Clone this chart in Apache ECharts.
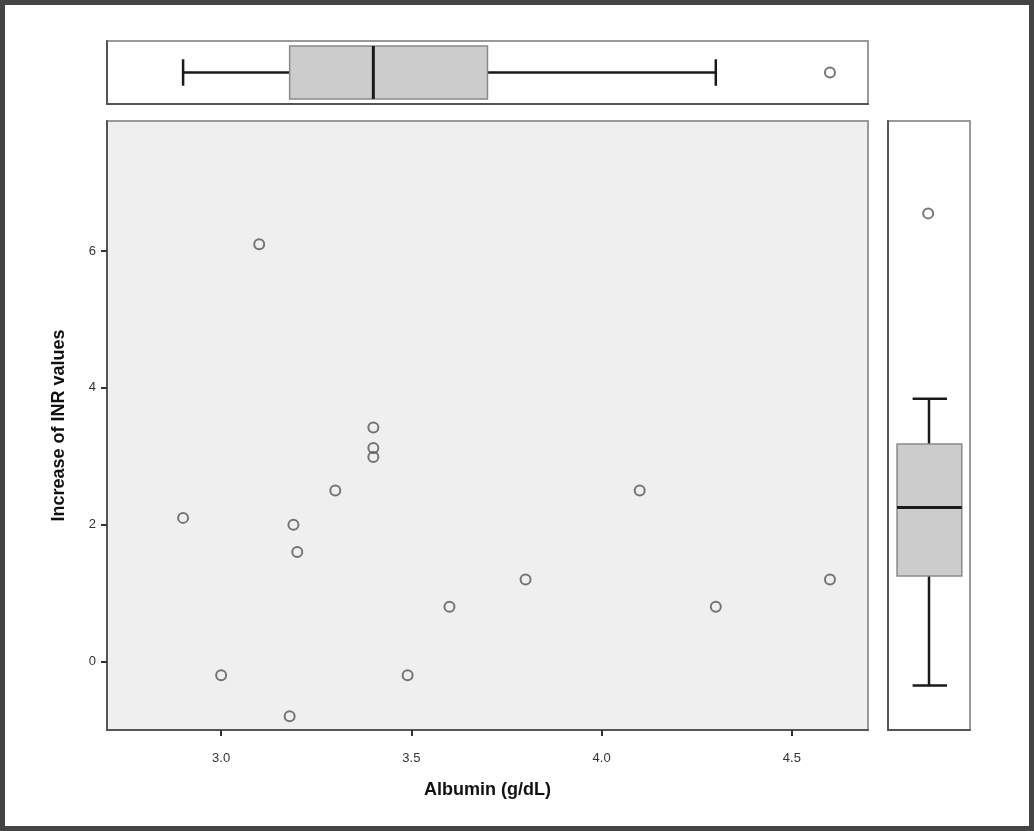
<!DOCTYPE html>
<html>
<head>
<meta charset="utf-8">
<script src="https://cdn.jsdelivr.net/npm/echarts@6/dist/echarts.min.js"></script>
<style>
  html, body { margin: 0; padding: 0; background: #444; }
  #chart { position: absolute; left: 5px; top: 5px; width: 1024px; height: 821px; background: #fff; }
</style>
</head>
<body>
<div id="chart"></div>
<script>
// scatter points: albumin vs increase of INR
const albumin = [2.9, 3.0, 3.1, 3.18, 3.19, 3.2, 3.3, 3.4, 3.4, 3.4, 3.49, 3.6, 3.8, 4.1, 4.3, 4.6]
const inrIncrease = [2.1, -0.2, 6.1, -0.8, 2.0, 1.6, 2.5, 3.42, 3.12, 2.99, -0.2, 0.8, 1.2, 2.5, 0.8, 1.2]

// marginal boxplots: [low whisker, q1, median, q3, high whisker]
const albuminBox = [2.9, 3.18, 3.4, 3.7, 4.3]
const albuminOutliers = [4.6]
const inrBox = [-0.35, 1.25, 2.25, 3.18, 3.84]
const inrOutliers = [6.55]

const xTicks = [3.0, 3.5, 4.0, 4.5]
const yTicks = [0, 2, 4, 6]

const X_MIN = 2.7, X_MAX = 4.7
const Y_MIN = -1, Y_MAX = 7.9

const chart = echarts.init(document.getElementById('chart'))

const font = '"Liberation Sans", Arial, sans-serif'

const circleStyle = {
  color: 'rgba(0,0,0,0)',
  borderColor: '#555',
  borderWidth: 2
}

// only the frame line of the marginal panels, no ticks or labels
const edgeOnly = {
  axisLine: { show: true, onZero: false, lineStyle: { color: '#555', width: 2 } },
  axisTick: { show: false },
  axisLabel: { show: false },
  splitLine: { show: false }
}

// box drawn across [0,1] on the position axis
const makeBoxRender = (horizontal) => (params, api) => {
  const v = [0, 1, 2, 3, 4].map(i => api.value(i))
  const pt = (val, pos) => horizontal ? api.coord([val, pos]) : api.coord([pos, val])
  const lo = horizontal ? 0.08 : 0.11
  const hi = horizontal ? 0.92 : 0.90
  const c0 = horizontal ? 0.29 : 0.30
  const c1 = horizontal ? 0.71 : 0.72
  const a = pt(v[1], lo)
  const b = pt(v[3], hi)
  const line = (p, q, w) => ({
    type: 'line',
    shape: { x1: p[0], y1: p[1], x2: q[0], y2: q[1] },
    style: { stroke: '#1a1a1a', lineWidth: w }
  })
  return {
    type: 'group',
    children: [
      line(pt(v[0], 0.5), pt(v[1], 0.5), 2.5),
      line(pt(v[3], 0.5), pt(v[4], 0.5), 2.5),
      line(pt(v[0], c0), pt(v[0], c1), 2.5),
      line(pt(v[4], c0), pt(v[4], c1), 2.5),
      {
        type: 'rect',
        shape: {
          x: Math.min(a[0], b[0]),
          y: Math.min(a[1], b[1]),
          width: Math.abs(b[0] - a[0]),
          height: Math.abs(b[1] - a[1])
        },
        style: { fill: '#cccccc', stroke: '#8a8a8a', lineWidth: 1.5 }
      },
      line(pt(v[2], lo), pt(v[2], hi), 3)
    ]
  }
}

const option = {
  animation: false,
  backgroundColor: '#fff',
  grid: [
    { left: 102, top: 116, width: 761, height: 609, show: true, backgroundColor: '#efefef', borderColor: '#9a9a9a', borderWidth: 2 },
    { left: 102, top: 36, width: 761, height: 63, show: true, backgroundColor: '#fff', borderColor: '#9a9a9a', borderWidth: 2 },
    { left: 883, top: 116, width: 82, height: 609, show: true, backgroundColor: '#fff', borderColor: '#9a9a9a', borderWidth: 2 }
  ],
  xAxis: [
    {
      gridIndex: 0,
      type: 'value',
      min: X_MIN,
      max: X_MAX,
      name: 'Albumin (g/dL)',
      nameLocation: 'middle',
      nameGap: 51,
      nameTextStyle: { fontFamily: font, fontWeight: 'bold', fontSize: 18, color: '#111' },
      axisLine: { show: true, onZero: false, lineStyle: { color: '#555', width: 2 } },
      axisTick: { show: true, customValues: xTicks, length: 6, lineStyle: { color: '#333', width: 2 } },
      axisLabel: {
        customValues: xTicks,
        formatter: (v) => v.toFixed(1),
        margin: 22,
        fontFamily: font,
        fontSize: 13,
        color: '#333'
      },
      splitLine: { show: false }
    },
    { gridIndex: 1, type: 'value', min: X_MIN, max: X_MAX, ...edgeOnly },
    { gridIndex: 2, type: 'value', min: 0, max: 1, ...edgeOnly }
  ],
  yAxis: [
    {
      gridIndex: 0,
      type: 'value',
      min: Y_MIN,
      max: Y_MAX,
      name: 'Increase of INR values',
      nameLocation: 'middle',
      nameGap: 39,
      nameTextStyle: { fontFamily: font, fontWeight: 'bold', fontSize: 18, color: '#111' },
      axisLine: { show: true, onZero: false, lineStyle: { color: '#555', width: 2 } },
      axisTick: { show: true, customValues: yTicks, length: 6, lineStyle: { color: '#333', width: 2 } },
      axisLabel: {
        customValues: yTicks,
        margin: 11,
        fontFamily: font,
        fontSize: 13,
        color: '#333'
      },
      splitLine: { show: false }
    },
    { gridIndex: 1, type: 'value', min: 0, max: 1, ...edgeOnly },
    { gridIndex: 2, type: 'value', min: Y_MIN, max: Y_MAX, ...edgeOnly }
  ],
  series: [
    {
      type: 'scatter',
      xAxisIndex: 0,
      yAxisIndex: 0,
      symbol: 'circle',
      symbolSize: 10,
      itemStyle: circleStyle,
      data: albumin.map((a, i) => [a, inrIncrease[i]])
    },
    {
      type: 'custom',
      xAxisIndex: 1,
      yAxisIndex: 1,
      renderItem: makeBoxRender(true),
      data: [albuminBox]
    },
    {
      type: 'scatter',
      xAxisIndex: 1,
      yAxisIndex: 1,
      symbol: 'circle',
      symbolSize: 10,
      itemStyle: circleStyle,
      data: albuminOutliers.map(v => [v, 0.5])
    },
    {
      type: 'custom',
      xAxisIndex: 2,
      yAxisIndex: 2,
      renderItem: makeBoxRender(false),
      data: [inrBox]
    },
    {
      type: 'scatter',
      xAxisIndex: 2,
      yAxisIndex: 2,
      symbol: 'circle',
      symbolSize: 10,
      itemStyle: circleStyle,
      data: inrOutliers.map(v => [0.49, v])
    }
  ]
}

chart.setOption(option)
</script>
</body>
</html>
